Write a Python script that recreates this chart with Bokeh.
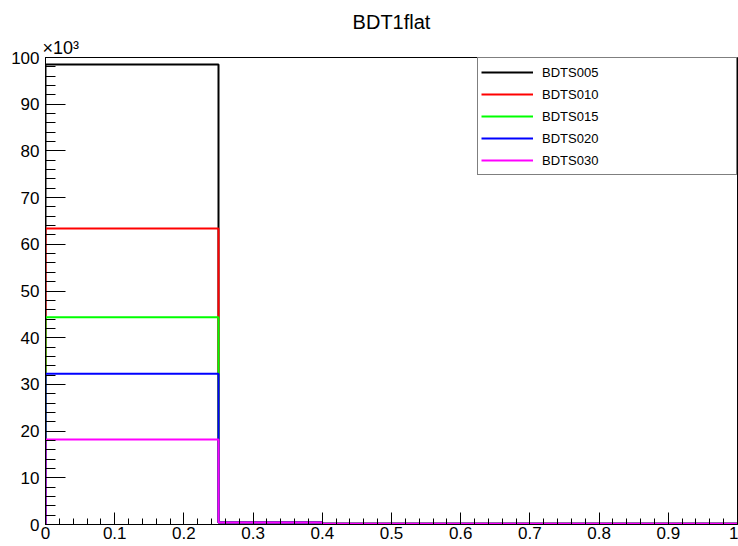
import numpy as np
from bokeh.plotting import figure
from bokeh.models import (Range1d, SingleIntervalTicker, Title, Legend, LegendItem,
                          CustomJSTickFormatter)
from bokeh.embed import file_html
from bokeh.resources import INLINE

# ---- data ----
bin_edges = [0.0, 0.25, 0.4, 1.0]
series_names = ["BDTS005", "BDTS010", "BDTS015", "BDTS020", "BDTS030"]
series_colors = ["#000000", "#ff0000", "#00ff00", "#0000ff", "#ff00ff"]
bdts005 = [98500, 450, 180]
bdts010 = [63400, 450, 180]
bdts015 = [44400, 450, 180]
bdts020 = [32300, 450, 180]
bdts030 = [18200, 450, 180]
series_values = [bdts005, bdts010, bdts015, bdts020, bdts030]
title_text = "BDT1flat"
multiplier_text = "\u00d710\u00b3"
y_scale = 1000.0  # axis shown in units of 10^3

FONT = "Liberation Sans"

p = figure(width=738, height=546, output_backend="svg", toolbar_location=None,
           x_range=Range1d(0, 1), y_range=Range1d(0, 100),
           min_border_left=45, min_border_right=1, min_border_top=57, min_border_bottom=22)
p.xgrid.visible = False
p.ygrid.visible = False
p.background_fill_color = "white"
p.border_fill_color = "white"
p.outline_line_color = "black"
p.outline_line_width = 1

# title (outermost) and multiplier (next to frame)
p.title.text = title_text
p.title.align = "center"
p.title.text_font = FONT
p.title.text_font_size = "20px"
p.title.text_font_style = "normal"
p.title.text_color = "black"
p.title.standoff = 5

mult = Title(text=multiplier_text, align="left", offset=-3, standoff=0,
             text_font=FONT, text_font_size="18px", text_font_style="normal",
             text_color="black")
p.add_layout(mult, "above")

# axes
xa = p.xaxis[0]
xa.ticker = SingleIntervalTicker(interval=0.1, num_minor_ticks=5)
xa.formatter = CustomJSTickFormatter(code="return String(Number(tick.toFixed(2)));")
xa.major_tick_in = 12
xa.major_tick_out = 0
xa.minor_tick_in = 6
xa.minor_tick_out = 0
xa.major_label_standoff = 2
xa.major_label_text_font = FONT
xa.major_label_text_font_size = "17px"
xa.major_label_text_color = "black"
xa.axis_line_color = "black"
xa.major_tick_line_color = "black"
xa.minor_tick_line_color = "black"

ya = p.yaxis[0]
ya.ticker = SingleIntervalTicker(interval=10, num_minor_ticks=5)
ya.major_tick_in = 20
ya.major_tick_out = 0
ya.minor_tick_in = 10
ya.minor_tick_out = 0
ya.major_label_standoff = 6
ya.major_label_text_font = FONT
ya.major_label_text_font_size = "17px"
ya.major_label_text_color = "black"
ya.axis_line_color = "black"
ya.major_tick_line_color = "black"
ya.minor_tick_line_color = "black"

# histograms as step outlines
edges = np.array(bin_edges)
items = []
for name, color, vals in zip(series_names, series_colors, series_values):
    v = np.array(vals, dtype=float) / y_scale
    xs = [edges[0]]
    ys = [0.0]
    for i in range(len(v)):
        xs += [edges[i], edges[i + 1]]
        ys += [v[i], v[i]]
    xs.append(edges[-1])
    ys.append(0.0)
    r = p.line(xs, ys, line_color=color, line_width=2)
    items.append(LegendItem(label=name, renderers=[r]))

legend = Legend(items=items, location=(432, 349), orientation="vertical",
                border_line_color="black", border_line_width=1,
                background_fill_color="white", background_fill_alpha=1.0,
                padding=3, spacing=0, margin=0,
                glyph_width=52, glyph_height=22, label_height=22,
                label_standoff=9, label_width=191,
                label_text_font=FONT, label_text_font_size="13px",
                label_text_color="black")
p.add_layout(legend, "center")

open("out.html", "w").write(file_html(p, INLINE))
